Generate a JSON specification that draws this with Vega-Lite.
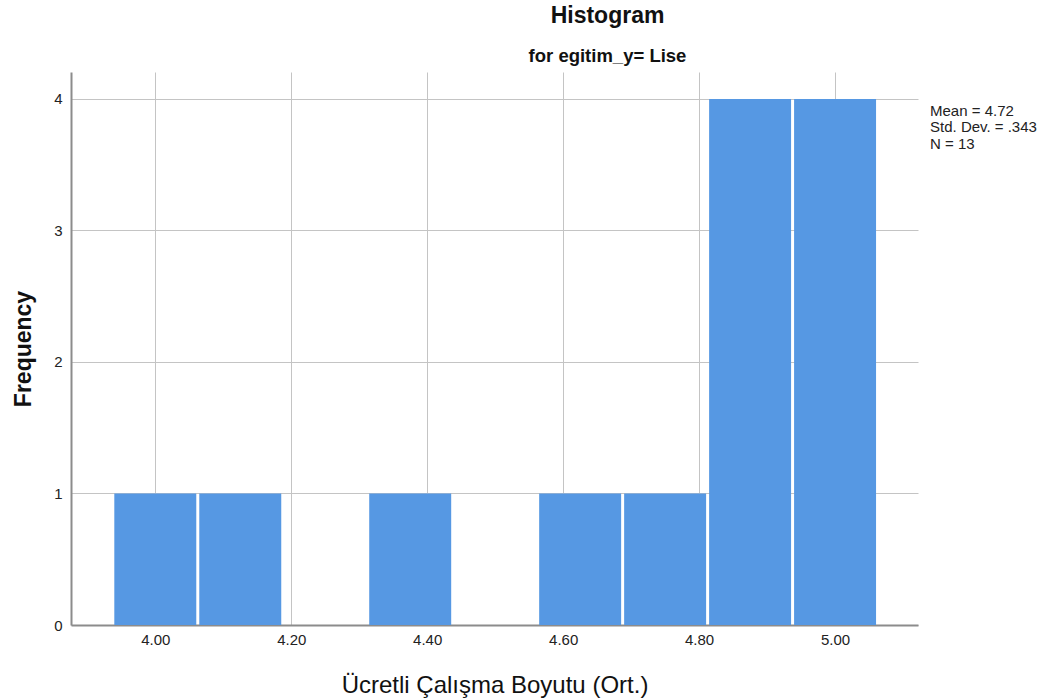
{
  "$schema": "https://vega.github.io/schema/vega-lite/v6.json",
  "width": 847,
  "height": 553,
  "autosize": {"type": "none"},
  "padding": {"left": 71, "top": 72, "right": 135, "bottom": 75},
  "background": "white",
  "config": {
    "font": "Liberation Sans",
    "view": {"stroke": null},
    "axis": {
      "labelFont": "Liberation Sans",
      "titleFont": "Liberation Sans",
      "labelColor": "#222222",
      "titleColor": "#111111",
      "gridColor": "#c4c4c4",
      "gridWidth": 1,
      "domainColor": "#8c8c8c",
      "domainWidth": 2,
      "ticks": false,
      "labelFontSize": 15
    }
  },
  "title": {
    "text": "Histogram",
    "subtitle": "for egitim_y= Lise",
    "font": "Liberation Sans",
    "fontSize": 23,
    "fontWeight": "bold",
    "subtitleFont": "Liberation Sans",
    "subtitleFontSize": 18.5,
    "subtitleFontWeight": "bold",
    "subtitleColor": "#111111",
    "color": "#111111",
    "anchor": "middle",
    "dx": 113,
    "offset": 7,
    "subtitlePadding": 19
  },
  "data": {
    "values": [
      {"bin_start": 3.9375, "bin_end": 4.0625, "count": 1},
      {"bin_start": 4.0625, "bin_end": 4.1875, "count": 1},
      {"bin_start": 4.3125, "bin_end": 4.4375, "count": 1},
      {"bin_start": 4.5625, "bin_end": 4.6875, "count": 1},
      {"bin_start": 4.6875, "bin_end": 4.8125, "count": 1},
      {"bin_start": 4.8125, "bin_end": 4.9375, "count": 4},
      {"bin_start": 4.9375, "bin_end": 5.0625, "count": 4}
    ]
  },
  "layer": [
    {
      "mark": {"type": "bar", "color": "#5698e3", "xOffset": 1.5, "x2Offset": -1.5, "clip": false},
      "encoding": {
        "x": {
          "field": "bin_start",
          "type": "quantitative",
          "scale": {"domain": [3.876, 5.122], "nice": false, "zero": false},
          "axis": {
            "values": [4.0, 4.2, 4.4, 4.6, 4.8, 5.0],
            "format": ".2f",
            "title": "Ücretli Çalışma Boyutu (Ort.)",
            "titleFontSize": 24,
            "titleFontWeight": "normal",
            "labelPadding": 7,
            "titlePadding": 26
          }
        },
        "x2": {"field": "bin_end"},
        "y": {
          "field": "count",
          "type": "quantitative",
          "scale": {"domain": [0, 4.205], "nice": false},
          "axis": {
            "values": [0, 1, 2, 3, 4],
            "format": "d",
            "title": "Frequency",
            "titleFontSize": 23,
            "titleFontWeight": "bold",
            "labelPadding": 9,
            "titlePadding": 18
          }
        },
        "y2": {"datum": 0}
      }
    },
    {
      "data": {"values": [{}]},
      "mark": {
        "type": "text",
        "text": "Mean = 4.72\nStd. Dev. = .343\nN = 13",
        "lineBreak": "\n",
        "align": "left",
        "baseline": "top",
        "fontSize": 15,
        "lineHeight": 16.5,
        "font": "Liberation Sans",
        "color": "#222222"
      },
      "encoding": {
        "x": {"datum": 5.1397},
        "y": {"datum": 3.965}
      }
    }
  ]
}
